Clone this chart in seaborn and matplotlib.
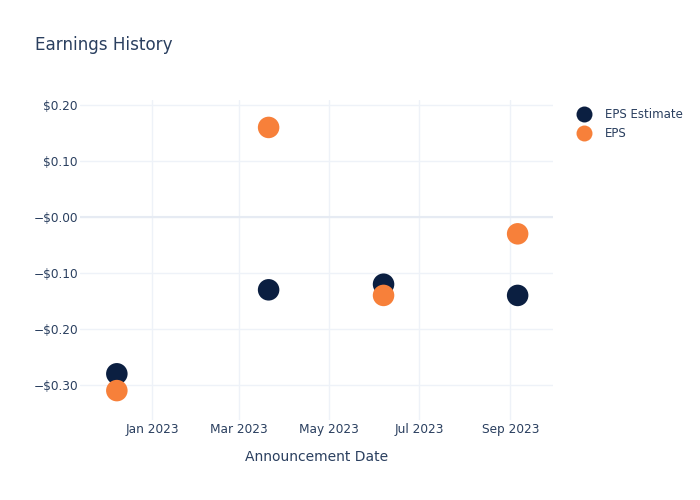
import matplotlib
matplotlib.use("Agg")
import matplotlib.pyplot as plt
import matplotlib.dates as mdates
import seaborn as sns
import pandas as pd
import numpy as np

dates = ["2022-12-08", "2023-03-21", "2023-06-07", "2023-09-06"]
eps_estimate = [-0.28, -0.13, -0.12, -0.14]
eps_actual = [-0.31, 0.16, -0.14, -0.03]
ytick_vals = [0.20, 0.10, 0.0, -0.10, -0.20, -0.30]
ytick_labels = ["$0.20", "$0.10", "\u2212$0.00", "\u2212$0.10", "\u2212$0.20", "\u2212$0.30"]
xtick_dates = ["2023-01-01", "2023-03-01", "2023-05-01", "2023-07-01", "2023-09-01"]

df = pd.DataFrame({
    "date": pd.to_datetime(dates * 2),
    "value": eps_estimate + eps_actual,
    "series": ["EPS Estimate"] * len(dates) + ["EPS"] * len(dates),
})

sns.set_theme(style="white")
plt.rcParams['font.family'] = ['DejaVu Sans']
text_color = "#2a3f5f"
grid_color = "#EEF2F8"

fig = plt.figure(figsize=(7, 5), dpi=100)
ax = fig.add_axes([80/700, 80/500, 473/700, 320/500])

sns.scatterplot(data=df, x="date", y="value", hue="series",
                palette={"EPS Estimate": "#0b1f41", "EPS": "#f7803a"},
                s=240, edgecolor="none", ax=ax, zorder=3)

ax.set_xlim(pd.Timestamp("2022-11-13"), pd.Timestamp("2023-09-30"))
ax.set_ylim(-0.3625, 0.209)

ax.set_yticks(ytick_vals)
ax.set_yticklabels(ytick_labels)
ax.set_xticks(pd.to_datetime(xtick_dates))
ax.xaxis.set_major_formatter(mdates.DateFormatter("%b %Y"))

ax.grid(True, color=grid_color, linewidth=1)
ax.axhline(0, color="#E6EBF3", linewidth=1.5, zorder=1)
for s in ax.spines.values():
    s.set_visible(False)
ax.tick_params(axis="both", length=0, colors=text_color, labelsize=8.7)
ax.tick_params(axis="x", pad=2)
ax.tick_params(axis="y", pad=1.5)

ax.set_xlabel("Announcement Date", color=text_color, fontsize=10, labelpad=10.5)
ax.set_ylabel("")

fig.text(35/700, 1 - 44.5/500, "Earnings History", color=text_color, fontsize=12.1, va="center", ha="left")

handles, labels = ax.get_legend_handles_labels()
for h in handles:
    try:
        h.set_markersize(11.5)
    except AttributeError:
        pass
leg = ax.legend(handles, labels, loc="upper left", bbox_to_anchor=(1.031, 0.99), frameon=False,
                fontsize=8.5, handletextpad=0.75, labelspacing=0.52, borderaxespad=0.0)
for t in leg.get_texts():
    t.set_color(text_color)

fig.savefig("out.png", dpi=100)
